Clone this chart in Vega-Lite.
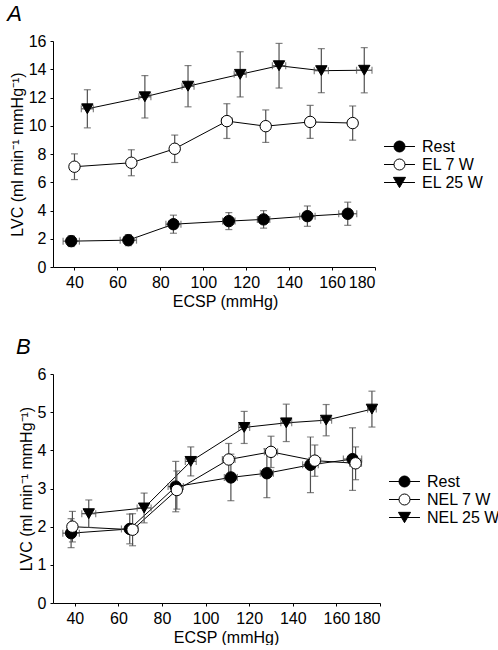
{
  "$schema": "https://vega.github.io/schema/vega-lite/v6.json",
  "padding": {"left": 7, "top": 3, "right": 0, "bottom": 0},
  "spacing": 27,
  "datasets": {
    "d": [
      {"p": "A", "g": "Rest", "x": 38.5, "y": 1.83, "ex": 3.8, "ey": 0.38},
      {"p": "A", "g": "Rest", "x": 65.1, "y": 1.9, "ex": 3.8, "ey": 0.39},
      {"p": "A", "g": "Rest", "x": 86.1, "y": 3.03, "ex": 3.5, "ey": 0.64},
      {"p": "A", "g": "Rest", "x": 111.9, "y": 3.25, "ex": 2.9, "ey": 0.6},
      {"p": "A", "g": "Rest", "x": 128.1, "y": 3.37, "ex": 2.9, "ey": 0.62},
      {"p": "A", "g": "Rest", "x": 148.5, "y": 3.6, "ex": 3.6, "ey": 0.72},
      {"p": "A", "g": "Rest", "x": 167.3, "y": 3.77, "ex": 4.2, "ey": 0.82},
      {"p": "A", "g": "EL 7 W", "x": 40.0, "y": 7.1, "ex": 2.0, "ey": 0.91},
      {"p": "A", "g": "EL 7 W", "x": 66.5, "y": 7.38, "ex": 2.0, "ey": 0.92},
      {"p": "A", "g": "EL 7 W", "x": 86.7, "y": 8.37, "ex": 2.0, "ey": 0.97},
      {"p": "A", "g": "EL 7 W", "x": 111.0, "y": 10.33, "ex": 2.5, "ey": 1.23},
      {"p": "A", "g": "EL 7 W", "x": 129.1, "y": 9.97, "ex": 2.0, "ey": 1.15},
      {"p": "A", "g": "EL 7 W", "x": 149.8, "y": 10.27, "ex": 2.0, "ey": 1.17},
      {"p": "A", "g": "EL 7 W", "x": 169.6, "y": 10.19, "ex": 2.0, "ey": 1.21},
      {"p": "A", "g": "EL 25 W", "x": 46.0, "y": 11.2, "ex": 2.8, "ey": 1.35},
      {"p": "A", "g": "EL 25 W", "x": 72.8, "y": 12.05, "ex": 2.8, "ey": 1.5},
      {"p": "A", "g": "EL 25 W", "x": 92.9, "y": 12.8, "ex": 2.8, "ey": 1.46},
      {"p": "A", "g": "EL 25 W", "x": 117.2, "y": 13.64, "ex": 2.8, "ey": 1.6},
      {"p": "A", "g": "EL 25 W", "x": 135.3, "y": 14.25, "ex": 3.1, "ey": 1.58},
      {"p": "A", "g": "EL 25 W", "x": 155.0, "y": 13.9, "ex": 3.3, "ey": 1.56},
      {"p": "A", "g": "EL 25 W", "x": 175.0, "y": 13.93, "ex": 3.6, "ey": 1.6},
      {"p": "B", "g": "Rest", "x": 38.3, "y": 1.83, "ex": 3.8, "ey": 0.38},
      {"p": "B", "g": "Rest", "x": 65.2, "y": 1.94, "ex": 3.8, "ey": 0.39},
      {"p": "B", "g": "Rest", "x": 86.3, "y": 3.05, "ex": 3.5, "ey": 0.66},
      {"p": "B", "g": "Rest", "x": 111.6, "y": 3.29, "ex": 3.0, "ey": 0.61},
      {"p": "B", "g": "Rest", "x": 128.1, "y": 3.4, "ex": 3.0, "ey": 0.64},
      {"p": "B", "g": "Rest", "x": 148.1, "y": 3.62, "ex": 3.6, "ey": 0.73},
      {"p": "B", "g": "Rest", "x": 167.4, "y": 3.77, "ex": 4.2, "ey": 0.82},
      {"p": "B", "g": "NEL 7 W", "x": 38.9, "y": 2.0, "ex": 2.0, "ey": 0.4},
      {"p": "B", "g": "NEL 7 W", "x": 66.5, "y": 1.92, "ex": 2.0, "ey": 0.42},
      {"p": "B", "g": "NEL 7 W", "x": 86.8, "y": 2.96, "ex": 2.0, "ey": 0.5},
      {"p": "B", "g": "NEL 7 W", "x": 110.6, "y": 3.76, "ex": 2.9, "ey": 0.42},
      {"p": "B", "g": "NEL 7 W", "x": 130.0, "y": 3.96, "ex": 3.0, "ey": 0.41},
      {"p": "B", "g": "NEL 7 W", "x": 150.1, "y": 3.73, "ex": 2.7, "ey": 0.41},
      {"p": "B", "g": "NEL 7 W", "x": 168.8, "y": 3.66, "ex": 2.7, "ey": 0.43},
      {"p": "B", "g": "NEL 25 W", "x": 46.4, "y": 2.34, "ex": 3.2, "ey": 0.36},
      {"p": "B", "g": "NEL 25 W", "x": 71.8, "y": 2.49, "ex": 3.2, "ey": 0.39},
      {"p": "B", "g": "NEL 25 W", "x": 93.2, "y": 3.71, "ex": 2.5, "ey": 0.38},
      {"p": "B", "g": "NEL 25 W", "x": 117.7, "y": 4.6, "ex": 2.5, "ey": 0.42},
      {"p": "B", "g": "NEL 25 W", "x": 137.0, "y": 4.72, "ex": 2.5, "ey": 0.49},
      {"p": "B", "g": "NEL 25 W", "x": 155.3, "y": 4.79, "ex": 2.5, "ey": 0.41},
      {"p": "B", "g": "NEL 25 W", "x": 176.3, "y": 5.08, "ex": 2.0, "ey": 0.47}
    ]
  },
  "vconcat": [
    {
      "width": 322,
      "height": 226,
      "title": {"text": "A", "fontSize": 22, "fontStyle": "italic", "fontWeight": "normal", "anchor": "start", "frame": "bounds", "offset": 7, "dx": -2},
      "data": {"name": "d"},
      "transform": [{"filter": "datum.p === 'A'"}],
      "encoding": {
        "x": {"field": "x", "type": "quantitative", "title": "ECSP (mmHg)", "scale": {"domain": [30, 180], "nice": false, "zero": false}, "axis": {"values": [40, 60, 80, 100, 120, 140, 160, 180], "titleX": 172}},
        "y": {"field": "y", "type": "quantitative", "title": "LVC (ml min⁻¹ mmHg⁻¹)", "scale": {"domain": [0, 16], "nice": false}, "axis": {"values": [0, 2, 4, 6, 8, 10, 12, 14, 16]}}
      },
      "layer": [
        {"mark": {"type": "line", "color": "black", "strokeWidth": 1}, "encoding": {"detail": {"field": "g"}}},
        {"mark": {"type": "errorbar", "color": "#505050", "thickness": 1.2, "ticks": {"size": 7, "color": "#505050"}}, "encoding": {"yError": {"field": "ey"}}},
        {"mark": {"type": "errorbar", "color": "#505050", "thickness": 1.2, "ticks": {"size": 7, "color": "#505050"}}, "encoding": {"xError": {"field": "ex"}}},
        {"mark": {"type": "point", "filled": true, "size": 130, "stroke": "black", "strokeWidth": 1, "opacity": 1},
         "encoding": {
           "shape": {"field": "g", "scale": {"domain": ["Rest", "EL 7 W", "EL 25 W"], "range": ["circle", "circle", "triangle-down"]}, "legend": null},
           "fill": {"field": "g", "scale": {"domain": ["Rest", "EL 7 W", "EL 25 W"], "range": ["black", "white", "black"]}, "legend": null}
         }},
        {"mark": {"type": "point", "filled": true, "size": 306, "stroke": "black", "strokeWidth": 1, "opacity": 0},
         "encoding": {
           "shape": {"field": "g", "scale": {"domain": ["Rest", "EL 7 W", "EL 25 W"], "range": ["M-1.77,0H-0.63M0.63,0H1.77M-0.63,0A0.63,0.63,0,1,0,0.63,0A0.63,0.63,0,1,0,-0.63,0Z", "M-1.77,0H-0.63M0.63,0H1.77M-0.63,0A0.63,0.63,0,1,0,0.63,0A0.63,0.63,0,1,0,-0.63,0Z", "M-1.77,0H-0.35M0.35,0H1.77M-0.69,-0.59L0.69,-0.59L0,0.59Z"]},
             "legend": {"title": null, "orient": "none", "legendX": 337, "legendY": 96, "padding": 0, "rowPadding": 0, "labelFontSize": 16, "labelOffset": 13, "symbolSize": 306, "symbolStrokeColor": "black", "symbolStrokeWidth": 1, "encode": {"symbols": {"update": {"opacity": {"value": 1}}}}}},
           "fill": {"field": "g", "scale": {"domain": ["Rest", "EL 7 W", "EL 25 W"], "range": ["black", "white", "black"]},
             "legend": {"title": null, "orient": "none", "legendX": 337, "legendY": 96, "padding": 0, "rowPadding": 0, "labelFontSize": 16, "labelOffset": 13, "symbolSize": 306, "symbolStrokeColor": "black", "symbolStrokeWidth": 1, "encode": {"symbols": {"update": {"opacity": {"value": 1}}}}}}
         }}
      ],
      "resolve": {"scale": {"shape": "independent", "fill": "independent"}, "legend": {"shape": "independent", "fill": "independent"}}
    },
    {
      "width": 327,
      "height": 229,
      "title": {"text": "B", "fontSize": 22, "fontStyle": "italic", "fontWeight": "normal", "anchor": "start", "frame": "bounds", "offset": 7, "dx": -2},
      "data": {"name": "d"},
      "transform": [{"filter": "datum.p === 'B'"}],
      "encoding": {
        "x": {"field": "x", "type": "quantitative", "title": "ECSP (mmHg)", "scale": {"domain": [30, 180], "nice": false, "zero": false}, "axis": {"values": [40, 60, 80, 100, 120, 140, 160, 180], "titleX": 173}},
        "y": {"field": "y", "type": "quantitative", "title": "LVC (ml min⁻¹ mmHg⁻¹)", "scale": {"domain": [0, 6], "nice": false}, "axis": {"values": [0, 1, 2, 3, 4, 5, 6]}}
      },
      "layer": [
        {"mark": {"type": "line", "color": "black", "strokeWidth": 1}, "encoding": {"detail": {"field": "g"}}},
        {"mark": {"type": "errorbar", "color": "#505050", "thickness": 1.2, "ticks": {"size": 7, "color": "#505050"}}, "encoding": {"yError": {"field": "ey"}}},
        {"mark": {"type": "errorbar", "color": "#505050", "thickness": 1.2, "ticks": {"size": 7, "color": "#505050"}}, "encoding": {"xError": {"field": "ex"}}},
        {"mark": {"type": "point", "filled": true, "size": 130, "stroke": "black", "strokeWidth": 1, "opacity": 1},
         "encoding": {
           "shape": {"field": "g", "scale": {"domain": ["Rest", "NEL 7 W", "NEL 25 W"], "range": ["circle", "circle", "triangle-down"]}, "legend": null},
           "fill": {"field": "g", "scale": {"domain": ["Rest", "NEL 7 W", "NEL 25 W"], "range": ["black", "white", "black"]}, "legend": null}
         }},
        {"mark": {"type": "point", "filled": true, "size": 306, "stroke": "black", "strokeWidth": 1, "opacity": 0},
         "encoding": {
           "shape": {"field": "g", "scale": {"domain": ["Rest", "NEL 7 W", "NEL 25 W"], "range": ["M-1.77,0H-0.63M0.63,0H1.77M-0.63,0A0.63,0.63,0,1,0,0.63,0A0.63,0.63,0,1,0,-0.63,0Z", "M-1.77,0H-0.63M0.63,0H1.77M-0.63,0A0.63,0.63,0,1,0,0.63,0A0.63,0.63,0,1,0,-0.63,0Z", "M-1.77,0H-0.35M0.35,0H1.77M-0.69,-0.59L0.69,-0.59L0,0.59Z"]},
             "legend": {"title": null, "orient": "none", "legendX": 342, "legendY": 98, "padding": 0, "rowPadding": 0, "labelFontSize": 16, "labelOffset": 13, "symbolSize": 306, "symbolStrokeColor": "black", "symbolStrokeWidth": 1, "encode": {"symbols": {"update": {"opacity": {"value": 1}}}}}},
           "fill": {"field": "g", "scale": {"domain": ["Rest", "NEL 7 W", "NEL 25 W"], "range": ["black", "white", "black"]},
             "legend": {"title": null, "orient": "none", "legendX": 342, "legendY": 98, "padding": 0, "rowPadding": 0, "labelFontSize": 16, "labelOffset": 13, "symbolSize": 306, "symbolStrokeColor": "black", "symbolStrokeWidth": 1, "encode": {"symbols": {"update": {"opacity": {"value": 1}}}}}}
         }}
      ],
      "resolve": {"scale": {"shape": "independent", "fill": "independent"}, "legend": {"shape": "independent", "fill": "independent"}}
    }
  ],
  "config": {
    "font": "Liberation Sans",
    "view": {"stroke": null},
    "axis": {"grid": false, "domainColor": "black", "tickColor": "black", "labelColor": "black", "titleColor": "black", "labelFontSize": 16, "titleFontSize": 16, "titleFontWeight": "normal", "tickSize": 3, "labelPadding": 4, "titlePadding": 3},
    "legend": {"labelColor": "black"},
    "title": {"color": "black"}
  }
}
